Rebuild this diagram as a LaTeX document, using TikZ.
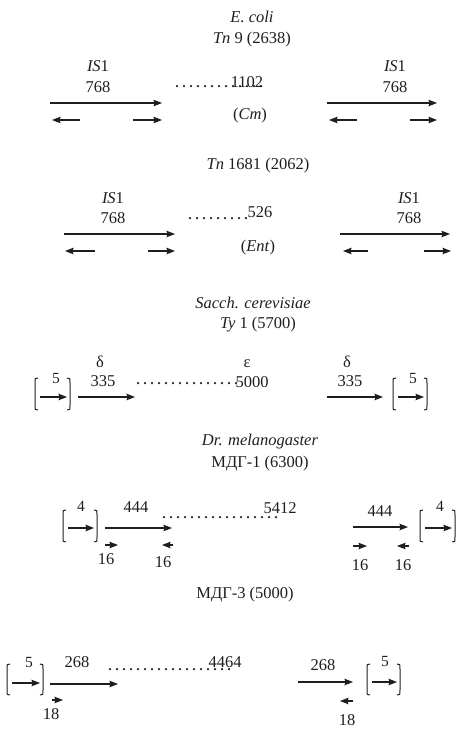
\documentclass[tikz,border=0pt]{standalone}
\usepackage{fontspec}
\setmainfont{Liberation Serif}
\usetikzlibrary{arrows.meta}
\definecolor{ink}{RGB}{30,30,30}
\tikzset{
  lbl/.style={anchor=base,inner sep=0pt,text=ink,font=\fontsize{16.5}{18}\selectfont},
  sml/.style={anchor=base,inner sep=0pt,text=ink,font=\fontsize{15.5}{17}\selectfont},
  arr/.style={draw=ink,line width=1.1pt,-{Stealth[length=8.5pt,width=6.5pt,inset=1pt]}},
  dotline/.style={draw=ink,line width=2.5pt,line cap=round,dash pattern=on 0pt off 7pt},
  brk/.style={draw=ink,line width=1pt}
}
\newcommand{\brpair}[5]{%
  \draw[brk] (#1+3,#3) .. controls (#1,#3) .. (#1,#3+5) -- (#1,#4-5) .. controls (#1,#4) .. (#1+3,#4);
  \draw[brk] (#2-3,#3) .. controls (#2,#3) .. (#2,#3+5) -- (#2,#4-5) .. controls (#2,#4) .. (#2-3,#4);
  \draw[arr] (#1+5,#5) -- (#2-3,#5);
}
\begin{document}
\begin{tikzpicture}[x=1pt,y=-1pt]
\useasboundingbox (0,0) rectangle (464,732);
% ---------- Section 1 ----------
\node[lbl] (ecoli) at (252,22) {\textit{E. coli}};
\node[lbl] (tn9) at (252,43) {\textit{Tn} 9 (2638)};
\node[lbl] (isA) at (98,71) {\textit{IS}1};
\node[lbl] (nA) at (98,92) {768};
\draw[arr] (50,103) -- (162,103);
\draw[arr] (80,120) -- (52,120);
\draw[arr] (133,120) -- (162,120);
\draw[dotline] (177,86) -- (262,86);
\node[lbl] (n1102) at (247,87) {1102};
\node[lbl] (cm) at (250,119) {(\textit{Cm})};
\node[lbl] (isB) at (395,71) {\textit{IS}1};
\node[lbl] (nB) at (395,92) {768};
\draw[arr] (327,103) -- (437,103);
\draw[arr] (357,120) -- (329,120);
\draw[arr] (410,120) -- (437,120);
% ---------- Section 2 ----------
\node[lbl] (tn1681) at (258,169) {\textit{Tn} 1681 (2062)};
\node[lbl] (isC) at (113,203) {\textit{IS}1};
\node[lbl] (nC) at (113,223) {768};
\draw[arr] (64,234) -- (175,234);
\draw[arr] (95,251) -- (65,251);
\draw[arr] (148,251) -- (175,251);
\draw[dotline] (190,218) -- (250,218);
\node[lbl] (n526) at (260,217) {526};
\node[lbl] (ent) at (258,251) {(\textit{Ent})};
\node[lbl] (isD) at (409,203) {\textit{IS}1};
\node[lbl] (nD) at (409,223) {768};
\draw[arr] (340,234) -- (450,234);
\draw[arr] (368,251) -- (343,251);
\draw[arr] (424,251) -- (451,251);
% ---------- Section 3 ----------
\node[lbl] (sacch) at (253,308) {\textit{Sacch. cerevisiae}};
\node[lbl] (ty1) at (258,328) {\textit{Ty} 1 (5700)};
\brpair{35}{70}{378}{410}{397}
\node[sml] (fiveA) at (56,383) {5};
\node[lbl] (deltaA) at (100,367) {δ};
\node[lbl] (n335A) at (103,386) {335};
\draw[arr] (78,397) -- (135,397);
\draw[dotline] (138,383) -- (238,383);
\node[lbl] (n5000) at (252,387) {5000};
\node[lbl] (eps) at (247,367) {ε};
\node[lbl] (deltaB) at (347,367) {δ};
\node[lbl] (n335B) at (350,386) {335};
\draw[arr] (327,397) -- (383,397);
\brpair{393}{427}{378}{410}{397}
\node[sml] (fiveB) at (413,383) {5};
% ---------- Section 4 ----------
\node[lbl] (dr) at (260,445) {\textit{Dr. melanogaster}};
\node[lbl] (mdg1) at (260,467) {МДГ-1 (6300)};
\brpair{63}{97}{510}{542}{528}
\node[sml] (fourA) at (81,511) {4};
\node[lbl] (n444A) at (136,512) {444};
\draw[arr] (105,528) -- (172,528);
\draw[arr] (105,545) -- (118,545);
\draw[arr] (173,545) -- (162,545);
\node[lbl] (s16a) at (106,564) {16};
\node[lbl] (s16b) at (163,567) {16};
\draw[dotline] (164,517) -- (283,517);
\node[lbl] (n5412) at (280,513) {5412};
\node[lbl] (n444B) at (380,516) {444};
\draw[arr] (353,527) -- (408,527);
\draw[arr] (353,546) -- (367,546);
\draw[arr] (409,546) -- (397,546);
\node[lbl] (s16c) at (360,570) {16};
\node[lbl] (s16d) at (403,570) {16};
\brpair{420}{455}{510}{542}{528}
\node[sml] (fourB) at (440,511) {4};
% ---------- Section 5 ----------
\node[lbl] (mdg3) at (245,598) {МДГ-3 (5000)};
\brpair{7}{43}{664}{695}{683}
\node[sml] (fiveC) at (29,667) {5};
\node[lbl] (n268A) at (77,667) {268};
\draw[arr] (50,684) -- (118,684);
\draw[arr] (52,700) -- (63,700);
\node[lbl] (s18a) at (51,719) {18};
\draw[dotline] (110,669) -- (230,669);
\node[lbl] (n4464) at (225,667) {4464};
\node[lbl] (n268B) at (323,670) {268};
\draw[arr] (298,682) -- (353,682);
\draw[arr] (353,701) -- (340,701);
\node[lbl] (s18b) at (347,725) {18};
\brpair{367}{400}{664}{695}{682}
\node[sml] (fiveD) at (385,666) {5};
\end{tikzpicture}
\end{document}
